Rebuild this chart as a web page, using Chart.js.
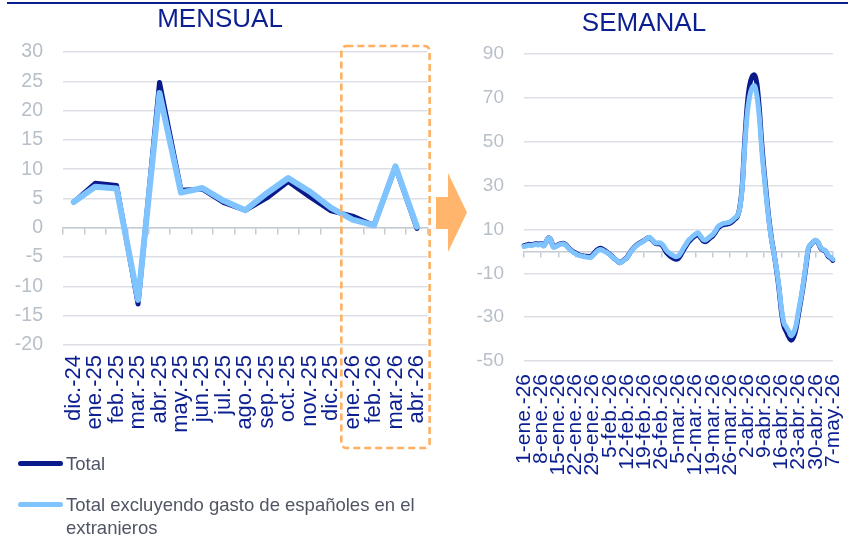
<!DOCTYPE html>
<html>
<head>
<meta charset="utf-8">
<script src="https://cdn.jsdelivr.net/npm/chart.js@4.4.1/dist/chart.umd.min.js"></script>
<style>
body{margin:0;background:#fff;width:848px;height:535px;overflow:hidden;position:relative;font-family:"Liberation Sans",Arial,sans-serif}
#topline{position:absolute;left:7px;top:2px;width:841px;height:2px;background:#0A1F8F}
#wrapM{position:absolute;left:0;top:0;width:440px;height:460px}
#wrapS{position:absolute;left:440px;top:0;width:408px;height:480px}
#arrow{position:absolute;left:436px;top:173px}
.leg{position:absolute;left:18px;width:420px;padding-left:48px;box-sizing:border-box;font-size:18.5px;color:#505565;line-height:23px}
.leg .ln{position:absolute;left:0;top:9px;width:45px;height:5px;border-radius:3px}
</style>
</head>
<body>
<div id="topline"></div>
<div id="wrapM"><canvas id="mensual" width="440" height="460"></canvas></div>
<div id="wrapS"><canvas id="semanal" width="408" height="480"></canvas></div>
<svg id="arrow" width="32" height="80"><polygon points="0,24 12,24 12,0 31,39.5 12,79 12,56 0,56" fill="#FFB56B"/></svg>
<div class="leg" style="top:452px"><span class="ln" style="background:#0A1A8A"></span>Total</div>
<div class="leg" style="top:493px"><span class="ln" style="background:#80C4FF"></span>Total excluyendo gasto de españoles en el extranjeros</div>
<script>
var navy = '#0C1F90';
var dark = '#0A1A8A';
var light = '#80C4FF';
var tickGray = '#B7BFC9';
var gridGray = '#DCE0E5';
var axisGray = '#C5CBD3';
var font = '"Liberation Sans", Arial, sans-serif';

// mensual
var months = ['dic.-24','ene.-25','feb.-25','mar.-25','abr.-25','may.-25','jun.-25','jul.-25','ago.-25','sep.-25','oct.-25','nov.-25','dic.-25','ene.-26','feb.-26','mar.-26','abr.-26'];
var monthTotal = [4.4, 7.6, 7.2, -13.0, 24.8, 6.4, 6.6, 4.3, 3.0, 5.1, 7.9, 5.3, 2.9, 2.0, 0.4, 10.4, -0.1];
var monthExcl  = [4.4, 7.0, 6.7, -12.3, 23.0, 6.0, 6.8, 4.6, 3.0, 5.9, 8.5, 6.2, 3.4, 1.4, 0.4, 10.5, 0.2];

// semanal (diario, 1-ene.-26 a 7-may.-26)
var weekTicks = ['1-ene.-26','8-ene.-26','15-ene.-26','22-ene.-26','29-ene.-26','5-feb.-26','12-feb.-26','19-feb.-26','26-feb.-26','5-mar.-26','12-mar.-26','19-mar.-26','26-mar.-26','2-abr.-26','9-abr.-26','16-abr.-26','23-abr.-26','30-abr.-26','7-may.-26'];
var dayTotal = [
  2.6, 2.9, 3.2, 3.0, 3.3, 3.5, 3.3, 3.6, 2.6, 4.3, 6.2, 5.1, 2.1, 2.4, 3.0, 3.5,
  3.7, 3.1, 1.9, 0.8, -0.1, -0.7, -1.4, -1.8, -2.0, -2.2, -2.3, -2.4, -1.6, -0.3, 0.8, 1.4,
  1.1, 0.3, -0.4, -1.4, -2.4, -3.4, -4.3, -5.2, -4.6, -3.7, -2.8, -1.1, 0.6, 1.9, 2.9, 3.7,
  4.3, 5.0, 5.8, 6.3, 5.4, 4.2, 3.5, 3.5, 3.1, 1.7, -0.3, -1.5, -2.5, -3.2, -3.6, -3.2,
  -1.6, 0.5, 2.3, 4.1, 5.3, 6.4, 7.2, 7.8, 6.3, 4.8, 4.4, 5.2, 6.2, 7.0, 8.5, 10.4,
  11.4, 12.0, 12.3, 12.5, 12.8, 13.6, 14.7, 15.8, 19.8, 29.5, 49.5, 66, 75.5, 79.5, 80.5, 76.5,
  65, 49, 36, 24.5, 14, 5.5, -1, -8.5, -17, -27.5, -34, -36.5, -39, -40.5, -39, -35,
  -28.5, -22, -15, -7, 1, 3.0, 4.2, 5.0, 3.9, 1.5, 0.6, 0.0, -2.2, -3.0, -4.1
];
var dayExcl = [
  2.2, 2.5, 2.8, 2.6, 3.0, 3.1, 2.9, 3.3, 2.4, 4.2, 6.2, 5.0, 1.9, 2.2, 2.8, 3.3,
  3.5, 2.9, 1.7, 0.6, -0.4, -1.0, -1.7, -2.0, -2.2, -2.5, -2.7, -2.8, -2.1, -0.9, 0.2, 0.9,
  0.6, -0.1, -0.7, -1.6, -2.5, -3.4, -4.3, -5.3, -4.7, -3.8, -3.0, -1.3, 0.4, 1.7, 2.7, 3.5,
  4.1, 4.9, 5.7, 6.4, 5.6, 4.4, 3.8, 3.9, 3.6, 2.4, 0.6, -0.5, -1.4, -2.0, -2.5, -2.1,
  -0.6, 1.4, 3.1, 4.9, 6.0, 7.1, 7.9, 8.5, 7.0, 5.5, 5.1, 5.9, 6.9, 7.7, 9.2, 11.1,
  12.0, 12.6, 12.9, 13.1, 13.4, 14.2, 15.3, 16.2, 19.5, 28.5, 47, 62, 70.5, 74.5, 75.5, 71,
  61, 46, 34, 23, 13, 5, -1, -8, -16, -26, -32.5, -34.5, -36.5, -38.5, -37, -33.5,
  -27, -21, -14, -6, 1.5, 3.2, 4.3, 5.2, 4.1, 1.8, 0.9, 0.3, -1.8, -2.6, -3.6
];
var days = dayTotal.map(function(v, i){ return i; });

// recuadro naranja discontinuo sobre ene-abr 26
var boxPlugin = {
  id: 'box',
  afterDraw: function(chart){
    var ctx = chart.ctx, x = chart.scales.x, y = chart.scales.y;
    var l = x.getPixelForValue(12.5) - 0.5, r = chart.chartArea.right + 2;
    var t = y.getPixelForValue(30) - 6, b = 448;
    ctx.save();
    ctx.strokeStyle = '#FFB062';
    ctx.lineWidth = 2.6;
    ctx.setLineDash([7, 4]);
    ctx.beginPath();
    ctx.roundRect(l, t, r - l, b - t, 5);
    ctx.stroke();
    ctx.restore();
  }
};

function lineSet(label, data, color, width, order, tension){
  return {
    label: label, data: data, borderColor: color, backgroundColor: color,
    borderWidth: width, pointRadius: 0, order: order, tension: tension,
    cubicInterpolationMode: tension ? 'monotone' : 'default',
    borderJoinStyle: 'round', borderCapStyle: 'round', fill: false
  };
}

// labels pushed down with an invisible tick length (ticks.padding widens the side padding)
new Chart(document.getElementById('mensual'), {
  type: 'line',
  data: {
    labels: months,
    datasets: [
      lineSet('Total', monthTotal, dark, 5, 2, 0),
      lineSet('Total excluyendo gasto de españoles en el extranjeros', monthExcl, light, 6, 1, 0)
    ]
  },
  options: {
    responsive: false, animation: false, devicePixelRatio: 1,
    layout: { padding: 0 },
    plugins: {
      legend: { display: false }, tooltip: { enabled: false },
      title: { display: true, text: 'MENSUAL', color: navy, font: { family: font, size: 26, weight: 'normal' }, padding: { top: 4, bottom: 16.8 } }
    },
    scales: {
      x: {
        offset: true,
        grid: { display: false, drawTicks: true, tickLength: 10 },
        border: { display: false },
        ticks: { color: navy, font: { family: font, size: 22, lineHeight: 1.05 }, minRotation: 90, maxRotation: 90, autoSkip: false, padding: 0 },
        afterFit: function(s){ s.height = 115; }
      },
      x0: {
        type: 'category', position: { y: 0 }, offset: true,
        grid: { display: true, drawOnChartArea: false, drawTicks: true, tickLength: 6, offset: true, color: axisGray, lineWidth: 1.5 },
        border: { display: true, color: axisGray, width: 1.5 },
        ticks: { display: false, padding: 0 }
      },
      y: {
        min: -20, max: 30,
        ticks: { stepSize: 5, color: tickGray, font: { family: font, size: 19.5 }, padding: 20 },
        grid: { color: gridGray, lineWidth: 1.5, drawTicks: false },
        border: { display: false },
        afterFit: function(s){ s.width = 63; }
      }
    }
  },
  plugins: [boxPlugin]
});

new Chart(document.getElementById('semanal'), {
  type: 'line',
  data: {
    labels: days,
    datasets: [
      lineSet('Total', dayTotal, dark, 5, 2, 0.4),
      lineSet('Total excluyendo gasto de españoles en el extranjeros', dayExcl, light, 5, 1, 0.4)
    ]
  },
  options: {
    responsive: false, animation: false, devicePixelRatio: 1,
    layout: { padding: 0 },
    plugins: {
      legend: { display: false }, tooltip: { enabled: false },
      title: { display: true, text: 'SEMANAL', color: navy, font: { family: font, size: 26, weight: 'normal' }, padding: { top: 8, bottom: 14.8 } }
    },
    scales: {
      x: {
        grid: { display: false, drawTicks: true, tickLength: 13 },
        border: { display: false },
        afterBuildTicks: function(axis){ axis.ticks = axis.ticks.filter(function(t){ return t.value % 7 === 0; }); },
        ticks: {
          color: navy, font: { family: font, size: 21, lineHeight: 0.72 }, minRotation: 90, maxRotation: 90, autoSkip: false, padding: 0,
          callback: function(v){ return weekTicks[v / 7]; }
        },
        afterFit: function(s){ s.height = 119; }
      },
      x0: {
        type: 'category', position: { y: 0 },
        afterBuildTicks: function(axis){ axis.ticks = axis.ticks.filter(function(t){ return t.value % 7 === 0; }); },
        grid: { display: true, drawOnChartArea: false, drawTicks: true, tickLength: 5, color: axisGray, lineWidth: 1.5 },
        border: { display: true, color: axisGray, width: 1.5 },
        ticks: { display: false, autoSkip: false, padding: 0 }
      },
      y: {
        min: -50, max: 90,
        ticks: { stepSize: 20, color: tickGray, font: { family: font, size: 19 }, padding: 20 },
        grid: { color: gridGray, lineWidth: 1.5, drawTicks: false },
        border: { display: false },
        afterFit: function(s){ s.width = 84; }
      }
    }
  }
});
</script>
</body>
</html>
